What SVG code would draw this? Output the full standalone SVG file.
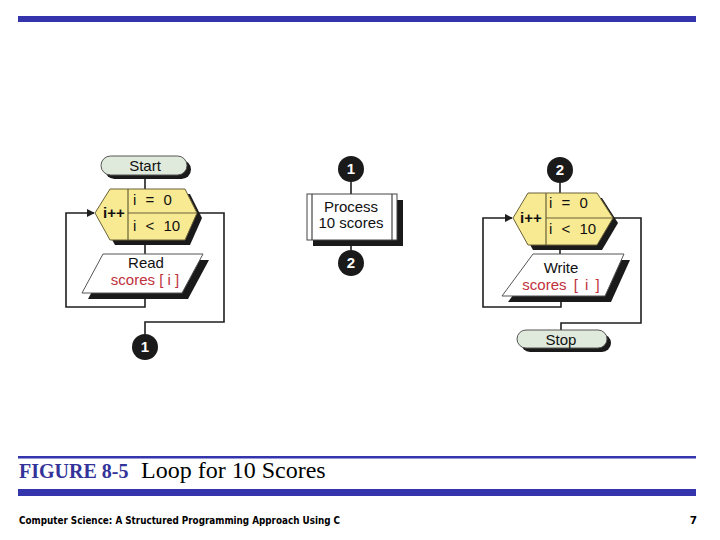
<svg xmlns="http://www.w3.org/2000/svg" width="720" height="540" viewBox="0 0 720 540">
<style>
.bar{fill:#3434ad}
.ln{fill:none;stroke:#1e1e1e;stroke-width:1.6}
.sh{fill:#1a1a1a}
.term{fill:#e0eadc;stroke:#555;stroke-width:1}
.hex{fill:#f8ea92;stroke:#6a6038;stroke-width:1}
.div{stroke:#6a6038;stroke-width:1.2}
.io{fill:#fff;stroke:#555;stroke-width:1}
.box{fill:#fff;stroke:#444;stroke-width:1}
.t{font-family:"Liberation Sans",Arial,sans-serif;font-size:15px;fill:#111}
.c{text-anchor:middle}
.red{fill:#c0303c}
.b{font-weight:bold}
.con{fill:#1a1a1a}
.cn{font-family:"Liberation Sans",Arial,sans-serif;font-size:15px;font-weight:bold;fill:#fff;text-anchor:middle}
</style>
<defs>
<marker id="arr" viewBox="0 0 10 10" refX="9" refY="5" markerWidth="8" markerHeight="8" markerUnits="userSpaceOnUse" orient="auto">
<path d="M0,0 L10,5 L0,10 z" fill="#1e1e1e"/>
</marker>
</defs>
<rect class="bar" x="18" y="16" width="678" height="6"/>
<g id="connectors">
<path class="ln" d="M145,175 V189"/>
<path class="ln" d="M145,240 V254"/>
<path class="ln" d="M197,213 H224 V322 H145 V334"/>
<path class="ln" d="M145,298 V307 H66 V213 H94" marker-end="url(#arr)"/>
<path class="ln" d="M351,182 V195"/>
<path class="ln" d="M351,240 V250"/>
<path class="ln" d="M560,183 V193"/>
<path class="ln" d="M560,245 V254"/>
<path class="ln" d="M613,218 H641 V323 H561 V330"/>
<path class="ln" d="M561,302 V307 H483 V218 H512" marker-end="url(#arr)"/>
</g>
<g id="start">
<rect class="sh" x="105" y="160" width="86" height="19" rx="9.5"/>
<rect class="term" x="101" y="156" width="86" height="19" rx="9.5"/>
<text class="t c" x="145" y="171">Start</text>
</g>
<g id="loop1">
<polygon class="sh" points="100,218 115,194 190,194 202,218 190,245 115,245"/>
<polygon class="hex" points="95,213 110,189 185,189 197,213 185,240 110,240"/>
<line class="div" x1="128" y1="189" x2="128" y2="240"/>
<line class="div" x1="128" y1="213" x2="197" y2="213"/>
<text class="t b" x="103" y="218" font-size="13">i++</text>
<text class="t" x="133" y="205" word-spacing="5">i = 0</text>
<text class="t" x="133" y="231" word-spacing="5">i &lt; 10</text>
</g>
<g id="read">
<polygon class="sh" points="109,260 209,260 188,299 88,299"/>
<polygon class="io" points="103,254 203,254 182,293 82,293"/>
<text class="t c" x="146" y="268">Read</text>
<text class="t c red" x="145" y="285">scores [ i ]</text>
</g>
<g id="conn1a">
<circle class="con" cx="145" cy="347" r="13"/>
<text class="cn" x="145" y="352">1</text>
</g>
<g id="conn1b">
<circle class="con" cx="351" cy="169" r="13"/>
<text class="cn" x="351" y="174">1</text>
</g>
<g id="process">
<rect class="sh" x="313" y="200" width="90" height="46"/>
<rect class="box" x="307" y="194" width="90" height="46"/>
<line class="div" x1="312" y1="194" x2="312" y2="240" style="stroke:#444"/>
<line class="div" x1="392" y1="194" x2="392" y2="240" style="stroke:#444"/>
<text class="t c" x="351" y="212">Process</text>
<text class="t c" x="351" y="228">10 scores</text>
</g>
<g id="conn2a">
<circle class="con" cx="351" cy="263" r="13"/>
<text class="cn" x="351" y="268">2</text>
</g>
<g id="conn2b">
<circle class="con" cx="560" cy="170" r="13"/>
<text class="cn" x="560" y="175">2</text>
</g>
<g id="loop2">
<polygon class="sh" points="518,223 533,198 602,198 618,223 602,250 533,250"/>
<polygon class="hex" points="513,218 528,193 597,193 613,218 597,245 528,245"/>
<line class="div" x1="546" y1="193" x2="546" y2="245"/>
<line class="div" x1="546" y1="218" x2="613" y2="218"/>
<text class="t b" x="520" y="223" font-size="13">i++</text>
<text class="t" x="549" y="208" word-spacing="5">i = 0</text>
<text class="t" x="549" y="234" word-spacing="5">i &lt; 10</text>
</g>
<g id="write">
<polygon class="sh" points="539,260 630,260 611,302 508,302"/>
<polygon class="io" points="533,254 624,254 605,296 502,296"/>
<text class="t c" x="561" y="273">Write</text>
<text class="t c red" x="561" y="290" word-spacing="3">scores  [ i ]</text>
</g>
<g id="stop">
<rect class="sh" x="521" y="334" width="90" height="18" rx="9"/>
<rect class="term" x="517" y="330" width="90" height="18" rx="9"/>
<text class="t c" x="561" y="345">Stop</text>
</g>
<rect class="bar" x="18" y="456" width="678" height="2.5"/>
<text x="19" y="478" font-family="'Liberation Serif','Times New Roman',serif" font-size="20" font-weight="bold" fill="#333399">FIGURE 8-5</text>
<text x="141" y="478" font-family="'Liberation Serif','Times New Roman',serif" font-size="24" fill="#000">Loop for 10 Scores</text>
<rect class="bar" x="18" y="489" width="678" height="7"/>
<text x="19" y="524" font-family="'DejaVu Sans',Verdana,sans-serif" font-size="10.5" font-weight="bold" fill="#000" textLength="321" lengthAdjust="spacingAndGlyphs">Computer Science: A Structured Programming Approach Using C</text>
<text x="697" y="524" font-family="'DejaVu Sans',Verdana,sans-serif" font-size="10.5" font-weight="bold" fill="#000" text-anchor="end">7</text>
</svg>
